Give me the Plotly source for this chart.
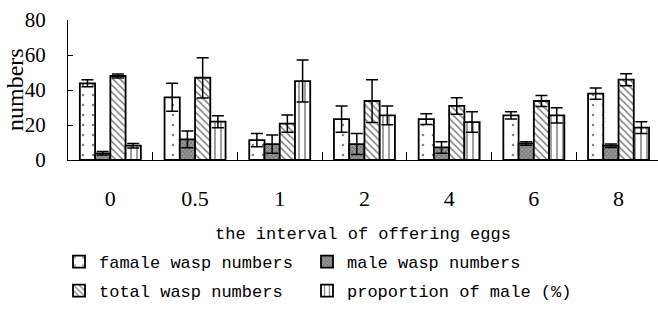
import plotly.graph_objects as go

# Interval between egg offerings (days)
intervals = ["0", "0.5", "1", "2", "4", "6", "8"]

female = [43.8, 35.8, 11.4, 23.4, 23.4, 25.5, 37.9]
female_err = [2.0, 8.0, 3.8, 7.5, 3.1, 2.1, 3.2]

male = [3.8, 11.8, 9.1, 9.1, 7.2, 9.5, 8.2]
male_err = [1.0, 4.8, 5.2, 6.0, 3.3, 1.0, 1.0]

total = [48.0, 47.0, 20.8, 33.7, 30.9, 33.7, 45.9]
total_err = [1.2, 11.5, 4.9, 12.2, 4.7, 3.1, 3.4]

male_pct = [8.2, 21.9, 45.1, 25.5, 21.7, 25.5, 18.5]
male_pct_err = [1.3, 3.4, 12.0, 5.4, 5.9, 4.4, 3.4]

TEXT_FONT = "Liberation Mono"
NUM_FONT = "Liberation Serif"
W, H = 658, 334

# one legend box per entry, laid out as a 2 x 2 grid under the axis title
series = [
    ("famale wasp numbers", female, female_err,
     dict(shape=".", size=10, solidity=0.05, fgcolor="black", bgcolor="white"), "legend"),
    ("male wasp numbers", male, male_err,
     dict(shape="x", size=3, solidity=0.35, fgcolor="#222222", bgcolor="#9a9a9a"), "legend2"),
    ("total wasp numbers", total, total_err,
     dict(shape="\\", size=5, solidity=0.3, fgcolor="black", bgcolor="white"), "legend3"),
    ("proportion of male (%)", male_pct, male_pct_err,
     dict(shape="|", size=6, solidity=0.25, fgcolor="black", bgcolor="white"), "legend4"),
]

fig = go.Figure()
for name, vals, errs, pattern, leg in series:
    fig.add_trace(go.Bar(
        name=name,
        x=intervals,
        y=vals,
        error_y=dict(type="data", array=errs, visible=True,
                     color="black", thickness=1.5, width=6),
        marker=dict(color="white", pattern=pattern,
                    line=dict(color="black", width=1.8)),
        legend=leg,
        showlegend=True,
    ))

col_x = [59 / W, 307 / W]
row_y = [1 - 262 / H, 1 - 291 / H]
legend_style = dict(orientation="h", xanchor="left", yanchor="middle",
                    xref="container", yref="container",
                    font=dict(family=TEXT_FONT, size=17),
                    bgcolor="rgba(0,0,0,0)")

fig.update_layout(
    width=W,
    height=H,
    margin=dict(l=68, r=0, t=20, b=174),
    paper_bgcolor="white",
    plot_bgcolor="white",
    showlegend=True,
    barmode="group",
    bargap=0.28,
    bargroupgap=0,
    font=dict(family=TEXT_FONT, size=17, color="black"),
    legend=dict(x=col_x[0], y=row_y[0], **legend_style),
    legend2=dict(x=col_x[1], y=row_y[0], **legend_style),
    legend3=dict(x=col_x[0], y=row_y[1], **legend_style),
    legend4=dict(x=col_x[1], y=row_y[1], **legend_style),
    annotations=[dict(
        text="numbers", textangle=-90,
        xref="paper", yref="paper", x=(15 - 68) / 590, y=0.5,
        xanchor="center", yanchor="middle", showarrow=False,
        font=dict(family=NUM_FONT, size=24),
    )],
)

fig.update_xaxes(
    type="category",
    range=[-0.5, 6.466],
    showline=True, linecolor="black", linewidth=1,
    ticks="inside", tickson="boundaries", ticklen=8, tickcolor="black",
    ticklabelstandoff=19,
    showgrid=False, zeroline=False,
    tickfont=dict(family=NUM_FONT, size=22),
    title=dict(text="the interval of offering eggs", standoff=20,
               font=dict(family=TEXT_FONT, size=17)),
)

fig.update_yaxes(
    range=[0, 80], dtick=20,
    showline=True, linecolor="black", linewidth=1,
    ticks="inside", ticklen=5, tickcolor="black",
    ticklabelstandoff=17,
    showgrid=False, zeroline=False,
    tickfont=dict(family=NUM_FONT, size=21),
)

fig.write_html("out.html")
